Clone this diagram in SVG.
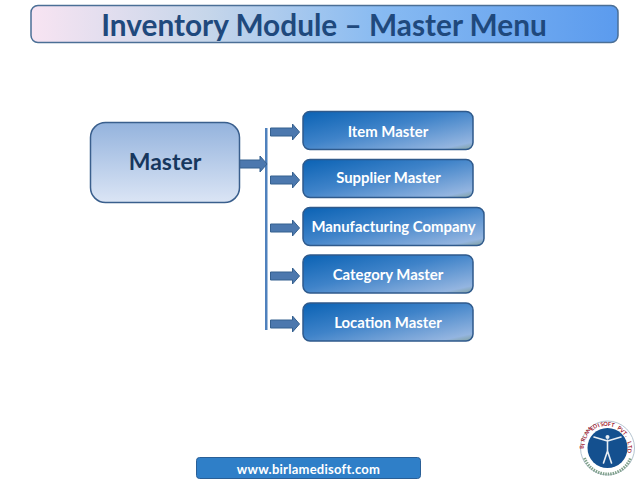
<svg xmlns="http://www.w3.org/2000/svg" width="638" height="479" viewBox="0 0 638 479">
<defs>
<linearGradient id="gt" x1="0" y1="0" x2="1" y2="0"><stop offset="0" stop-color="#f8e4f2"/><stop offset=".3" stop-color="#c6d6ea"/><stop offset=".6" stop-color="#87baf2"/><stop offset="1" stop-color="#5b9bee"/></linearGradient>
<linearGradient id="gm" x1="0" y1="0" x2="0" y2="1"><stop offset="0" stop-color="#94b3dd"/><stop offset="1" stop-color="#dbe5f5"/></linearGradient>
<linearGradient id="gb" x1="0" y1="0" x2="1" y2="1"><stop offset="0" stop-color="#0a62b4"/><stop offset=".45" stop-color="#3f83c9"/><stop offset=".9" stop-color="#94b5e0"/><stop offset="1" stop-color="#7f9f9c"/></linearGradient>
<path id="arr" d="M0-4H22V-8L29 0L22 8V4H0Z"/>
</defs>
<style>
text{font-family:"Lato","Liberation Sans",sans-serif;font-weight:700;text-anchor:middle}
.b{fill:url(#gb);stroke:#2f5a8c;stroke-width:1.5}
.l{fill:#fff;font-size:14.9px}
.a{fill:#4c78ae;stroke:#35608f;stroke-width:1}
</style>
<g id="title"><rect x="31" y="5.500" width="587" height="37" rx="7" fill="url(#gt)" stroke="#4b6f96" stroke-width="1.500"/><text x="324" y="36" font-size="29.800" fill="#1f497d">Inventory Module – Master Menu</text></g>
<g id="connectors">
<rect x="265" y="128" width="2.500" height="202" fill="#4f81bd"/>
<use href="#arr" class="a" x="238" y="164"/>
<use href="#arr" class="a" x="270.500" y="132"/>
<use href="#arr" class="a" x="270.500" y="180"/>
<use href="#arr" class="a" x="270.500" y="228"/>
<use href="#arr" class="a" x="270.500" y="276"/>
<use href="#arr" class="a" x="270.500" y="324"/>
</g>
<g id="master"><rect x="90.500" y="122.500" width="149" height="80" rx="15" fill="url(#gm)" stroke="#3a5f8d" stroke-width="1.500"/><text x="165" y="170" font-size="23" fill="#17375e">Master</text></g>
<g id="item"><rect class="b" x="303" y="111.500" width="170" height="38" rx="7"/><text class="l" x="388" y="136.500">Item Master</text></g>
<g id="supplier"><rect class="b" x="303" y="159.500" width="170" height="38" rx="7"/><text class="l" x="388.500" y="183">Supplier Master</text></g>
<g id="manufacturing"><rect class="b" x="303" y="207.500" width="181" height="38" rx="7"/><text class="l" x="393.500" y="231.500">Manufacturing Company</text></g>
<g id="category"><rect class="b" x="303" y="255" width="170" height="38" rx="7"/><text class="l" x="388" y="279.500">Category Master</text></g>
<g id="location"><rect class="b" x="303" y="303" width="170" height="38" rx="7"/><text class="l" x="388" y="327.500">Location Master</text></g>
<g id="footer"><rect x="196.500" y="457.500" width="224" height="21" rx="3" fill="#2f7fc8" stroke="#2a5f96"/><text x="308.500" y="474" font-size="13" fill="#fff" letter-spacing=".25">www.birlamedisoft.com</text></g>
<g id="logo">
<circle cx="607.500" cy="448" r="27" fill="#fff" stroke="#b5c4d0" stroke-width="1"/>
<circle cx="607.500" cy="448" r="20" fill="#14508f"/>
<text font-size="5.500" fill="#a02030" x="585.500 585.700 586.300 587.500 589 591.100 593.600 596.300 599.300 602.500 605.800 609.200 612.500 615.700 618.700 621.400 623.900 626 627.500 628.700 629.300 629.500" y="448.800 445.400 442.100 438.900 436 433.300 431 429.100 427.600 426.600 426.100 426.100 426.600 427.600 429.100 431 433.300 436 438.900 442.100 445.400 448.800" rotate="-92 -83.200 -74.500 -65.700 -57 -48.200 -39.400 -30.700 -21.900 -13.100 -4.400 4.400 13.100 21.900 30.700 39.400 48.200 57 65.700 74.500 83.200 92">BIRLAMEDISOFT PVT. LTD</text>
<path d="M584.500 458A24.500 24.500 0 0 0 630.500 458" fill="none" stroke="#7fa08a" stroke-width="3" stroke-dasharray="1.500 1"/>
<g fill="none" stroke="#e8eef4" stroke-width="1.600" stroke-linecap="round"><circle cx="607.500" cy="437" r="2" fill="#e8eef4" stroke="none"/><path d="M607.500 440V451M607.500 451L603.500 463M607.500 451L611.500 463M607.500 441L594 437M607.500 441L621 437"/></g>
</g>
</svg>
